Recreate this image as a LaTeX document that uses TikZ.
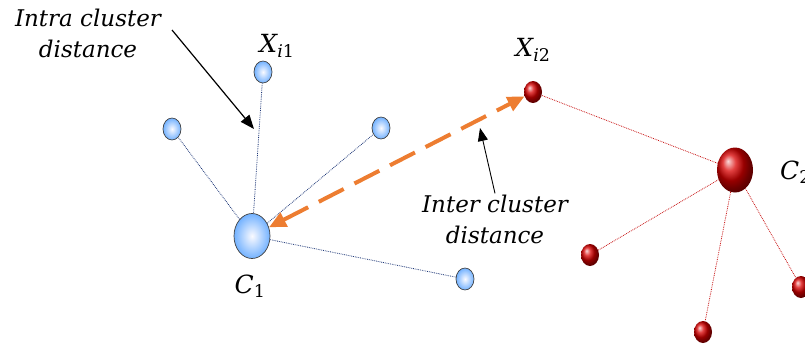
\documentclass[tikz,border=0pt]{standalone}
\usepackage{fontspec}
\setmainfont{DejaVu Serif}
\usetikzlibrary{shapes.geometric,arrows.meta}

\definecolor{arrorange}{RGB}{237,125,49}
\definecolor{linkblue}{RGB}{31,56,120}
\definecolor{linkred}{RGB}{200,20,20}

\tikzset{
  bluept/.style={ellipse, draw=gray!50!black, line width=0.7pt, inner sep=0pt,
    minimum width=18pt, minimum height=22pt, shading=radial,
    inner color=blue!2, outer color=cyan!45!blue!55},
  bluecenter/.style={bluept, minimum width=36pt, minimum height=45pt},
  redpt/.style={ellipse, inner sep=0pt, minimum width=18pt, minimum height=22pt,
    ball color=red!85!black},
  redcenter/.style={redpt, minimum width=36pt, minimum height=45pt},
  bluelink/.style={densely dotted, line width=0.8pt, draw=linkblue},
  redlink/.style={densely dotted, line width=0.8pt, draw=linkred},
  lbl/.style={font=\fontsize{23}{31}\selectfont\itshape, align=center, inner sep=1pt},
  mlbl/.style={font=\fontsize{25}{28}\selectfont\itshape, inner sep=1pt}
}

\begin{document}
\begin{tikzpicture}[x=1pt, y=-1pt, >={Triangle[length=14pt, width=11pt]}]
  \useasboundingbox (0,0) rectangle (805,348);

  % 1. Cluster 1 (blue points)
  \node[bluecenter] (c1) at (252,236) {};
  \node[bluept] (xi1) at (263,72) {};
  \node[bluept] (b1) at (172,129) {};
  \node[bluept] (b2) at (381,128) {};
  \node[bluept] (b3) at (465,279) {};

  % 2. Cluster 2 (red points)
  \node[redcenter] (c2) at (735,170) {};
  \node[redpt] (xi2) at (533,92) {};
  \node[redpt] (r1) at (590,255) {};
  \node[redpt] (r2) at (703,332) {};
  \node[redpt] (r3) at (801,287) {};

  % links to the centres
  \foreach \p in {xi1,b1,b2,b3} \draw[bluelink] (c1) -- (\p);
  \foreach \p in {xi2,r1,r2,r3} \draw[redlink] (c2) -- (\p);

  % 3. Labels
  \node[mlbl] (lc1) at (250,286) {C\textsubscript{\upshape 1}};
  \node[mlbl, anchor=west] (lc2) at (779,172) {C\textsubscript{\upshape 2}};
  \node[mlbl] (lxi1) at (277,46) {X\textsubscript{i\upshape 1}};
  \node[mlbl] (lxi2) at (533,50) {X\textsubscript{i\upshape 2}};
  \node[lbl] (intra) at (88,33) {Intra cluster\\distance};
  \node[lbl] (inter) at (495,219) {Inter cluster\\distance};

  % 4. Distance arrows
  \coordinate (intratip) at (254,129);
  \coordinate (intertip) at (480,128);
  \draw[->, line width=1.2pt] (172,30) -- (intratip);
  \draw[->, line width=0.9pt, >={Triangle[length=13pt, width=10pt]}] (inter.north) -- (intertip);
  \draw[<->, arrorange, line width=4pt, dash pattern=on 28pt off 12pt,
    >={Triangle[length=17pt, width=15pt]}] (c1) -- (xi2);

\end{tikzpicture}
\end{document}
